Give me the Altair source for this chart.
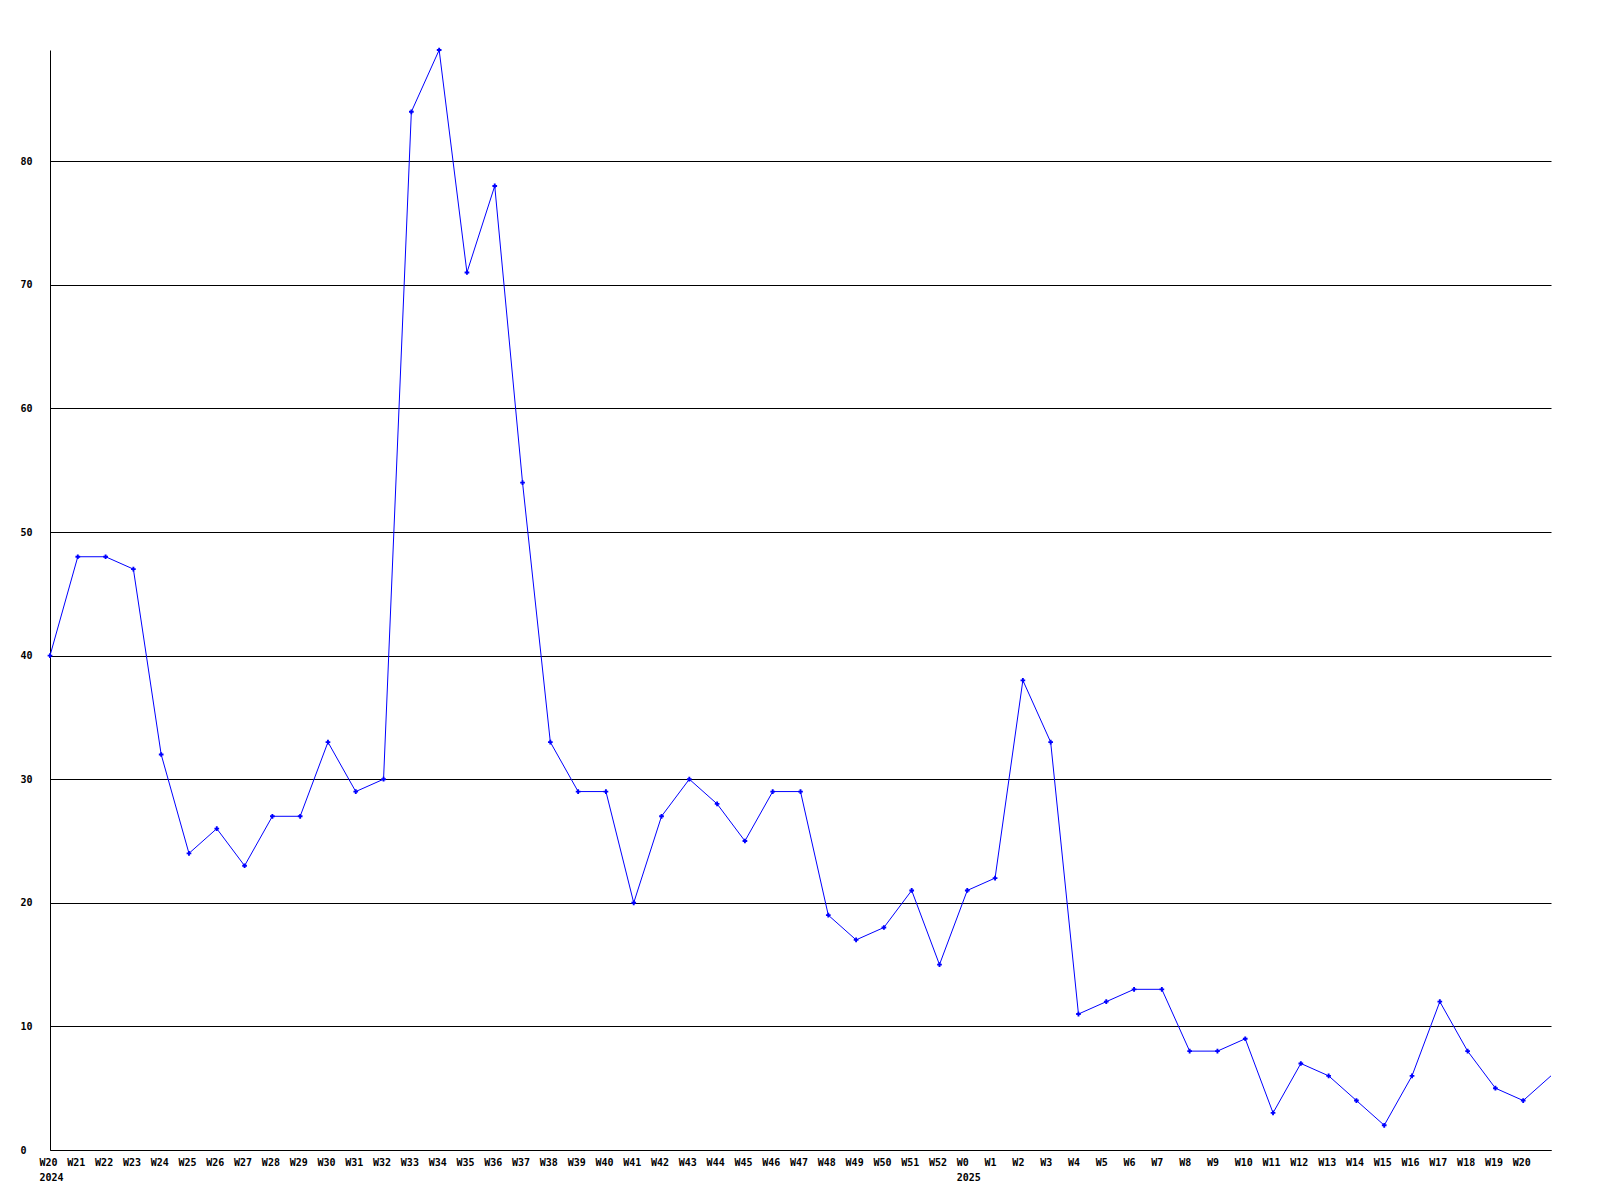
import json
import altair as alt
import pandas as pd

weeks = ["W20", "W21", "W22", "W23", "W24", "W25", "W26", "W27", "W28", "W29",
         "W30", "W31", "W32", "W33", "W34", "W35", "W36", "W37", "W38", "W39",
         "W40", "W41", "W42", "W43", "W44", "W45", "W46", "W47", "W48", "W49",
         "W50", "W51", "W52", "W0", "W1", "W2", "W3", "W4", "W5", "W6", "W7",
         "W8", "W9", "W10", "W11", "W12", "W13", "W14", "W15", "W16", "W17",
         "W18", "W19", "W20", ""]
years = ["2024"] + [""] * 32 + ["2025"] + [""] * 21
values = [40, 48, 48, 47, 32, 24, 26, 23, 27, 27,
          33, 29, 30, 84, 89, 71, 78, 54, 33, 29,
          29, 20, 27, 30, 28, 25, 29, 29, 19, 17,
          18, 21, 15, 21, 22, 38, 33, 11, 12, 13, 13,
          8, 8, 9, 3, 7, 6, 4, 2, 6, 12,
          8, 5, 4, 6]

n = len(values)
df = pd.DataFrame({"idx": list(range(n)), "value": values})
df_pts = df[df["idx"] < n - 1]

wk = json.dumps(weeks)
yr = json.dumps(years)
label_expr = (f"{yr}[datum.value] ? [{wk}[datum.value], {yr}[datum.value]] "
              f": {wk}[datum.value]")

font = "DejaVu Sans Mono"

x = alt.X("idx:Q",
          scale=alt.Scale(domain=[0, n - 1], nice=False, zero=False),
          axis=alt.Axis(values=list(range(n)), labelExpr=label_expr,
                        title=None, grid=False, ticks=False,
                        domainColor="black", domainWidth=1,
                        labelFont=font, labelFontWeight="bold", labelFontSize=10,
                        labelColor="black", labelAlign="left", labelOffset=-11,
                        labelBaseline="top", labelPadding=7, labelLineHeight=15,
                        labelOverlap=False, labelBound=False, labelFlush=False))
y = alt.Y("value:Q",
          scale=alt.Scale(domain=[0, 89], nice=False),
          axis=alt.Axis(values=[0, 10, 20, 30, 40, 50, 60, 70, 80], title=None,
                        grid=True, gridColor="black", gridWidth=1, gridOpacity=1,
                        ticks=False, domainColor="black", domainWidth=1,
                        labelFont=font, labelFontWeight="bold", labelFontSize=10,
                        labelColor="black", labelAlign="left", labelPadding=30,
                        labelBaseline="middle"))

line = alt.Chart(df).mark_line(color="#0000ff", strokeWidth=1).encode(x=x, y=y)
pts = alt.Chart(df_pts).mark_point(shape="cross", filled=True, color="#0000ff",
                                   size=22, opacity=1).encode(x=x, y=y)

chart = (line + pts).properties(
    width=1501, height=1100,
    autosize=alt.AutoSizeParams(type="none"),
    padding={"left": 42, "top": 42, "right": 10, "bottom": 40},
    background="white",
).configure_view(stroke=None)

chart.save("out.html", embed_options={"renderer": "svg", "actions": False})
